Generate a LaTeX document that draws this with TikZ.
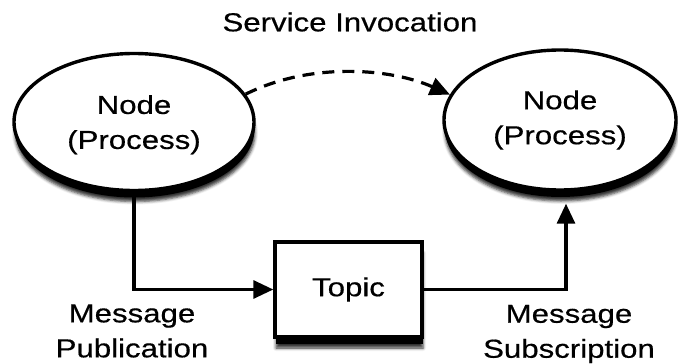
\documentclass[tikz,border=0pt]{standalone}
\usepackage{fontspec}
\setmainfont{Liberation Sans}[FakeStretch=1.2, FakeBold=0.5]
\usetikzlibrary{arrows.meta,shapes.geometric,shadows,shadows.blur}

\tikzset{
  softshadow/.style={
      blur shadow={shadow xshift=1pt, shadow yshift=-11pt,
        shadow blur radius=3pt, shadow opacity=80},
      drop shadow={shadow xshift=0.5pt, shadow yshift=-7pt,
        fill=black, opacity=1}},
  proc/.style={ellipse, draw, line width=3.4pt, fill=white, align=center,
      inner sep=0pt, softshadow},
  topicbox/.style={rectangle, draw, line width=3.4pt, fill=white,
      inner sep=0pt, softshadow},
  link/.style={line width=3.2pt, -{Triangle[length=20pt,width=18pt]}},
  calllink/.style={link, dash pattern=on 12pt off 8pt},
  lbl/.style={align=center},
}

\begin{document}
\begin{tikzpicture}[x=1pt, y=-1pt, font=\fontsize{26}{35}\selectfont]
  \useasboundingbox (0,0) rectangle (678,364);

  % processes and the topic between them
  \node[proc, minimum width=240pt, minimum height=137pt, text depth=-4.5pt] (L) at (134,122) {Node\\(Process)};
  \node[proc, minimum width=232pt, minimum height=140pt] (R) at (560,120) {Node\\(Process)};
  \node[topicbox, minimum width=147pt, minimum height=95pt] (T) at (348.5,289.5) {Topic};

  % captions
  \node[lbl] (svc) at (350,22) {Service Invocation};
  \node[lbl] (pub) at (132,331) {Message\\Publication};
  \node[lbl] (sub) at (569,334) {Message\\Subscription};

  % publish / subscribe path
  \coordinate (Rin) at ([xshift=6pt, yshift=-12pt]R.south);
  \draw[link] (L.south) |- (T.west);
  \draw[link] (T.east) -| (Rin);

  % service call
  \draw[calllink] (L.14) .. controls (310,62) and (390,68) .. (R.167);
\end{tikzpicture}
\end{document}
